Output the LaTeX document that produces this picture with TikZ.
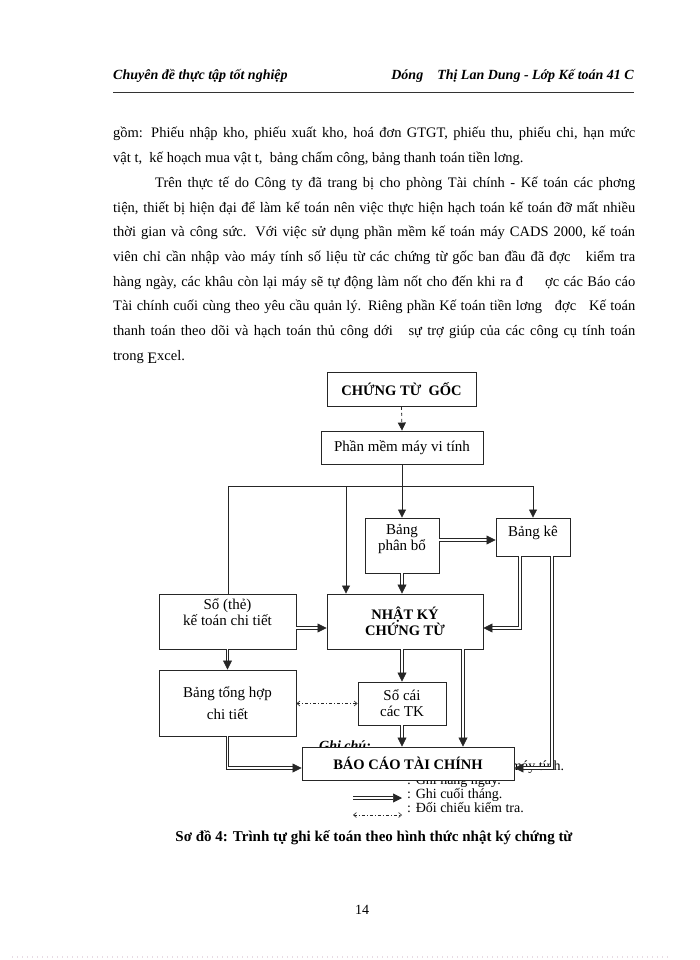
\documentclass[tikz,border=0pt]{standalone}
\usepackage{fontspec}
\setmainfont{Liberation Serif}
\usetikzlibrary{arrows.meta}

\definecolor{dotpink}{RGB}{232,218,228}
\newcommand{\bodyfont}{\fontsize{14.5}{17}\selectfont}
\newcommand{\boxfont}{\fontsize{15}{16}\selectfont}
\newcommand{\boxbold}{\fontsize{14.5}{15}\selectfont\bfseries}
\newcommand{\headfont}{\fontsize{14}{16}\selectfont\bfseries\itshape}

\tikzset{
  box/.style={draw=black!85, line width=0.9pt, fill=white, inner sep=2pt,
    align=center, font=\boxfont},
  arr/.style={draw=black!85, line width=0.8pt, -{Triangle[length=8pt,width=8pt]}},
  dbl/.style={draw=black!85, double, double distance=1.8pt, line width=0.7pt,
    -{Triangle[length=9pt,width=9pt]}},
  chk/.style={draw=black!85, line width=0.6pt, dash pattern=on 3pt off 2pt on 1pt off 2pt,
    {Straight Barb[length=3pt,width=5pt]}-{Straight Barb[length=3pt,width=5pt]}},
  txt/.style={anchor=base west, inner sep=0pt, font=\bodyfont},
  note/.style={anchor=base west, inner sep=0pt, font=\fontsize{14}{14}\selectfont}
}

\begin{document}
\begin{tikzpicture}[x=1pt,y=-1pt]
\useasboundingbox (0,0) rectangle (700,960);
\fill[white] (0,0) rectangle (700,960);

% header
\node[anchor=base west, inner sep=0pt, font=\headfont] (headl) at (113,80) {Chuyên đề thực tập tốt nghiệp};
\node[anchor=base east, inner sep=0pt, font=\headfont] (headr) at (634,80) {Dóng~~~~Thị Lan Dung - Lớp Kế toán 41 C};
\draw[line width=1pt, black!80] (113,93) -- (634,93);

% body text
\node[txt] (l1) at (113,138) {\hbox to 522pt{gồm: Phiếu nhập kho, phiếu xuất kho, hoá đơn GTGT, phiếu thu, phiếu chi, hạn mức}};
\node[txt] (l2) at (113,162.7) {vật t,~~kế hoạch mua vật t,~~bảng chấm công, bảng thanh toán tiền lơng.};
\node[txt] (l3) at (155,187.4) {\hbox to 480pt{Trên thực tế do Công ty đã trang bị cho phòng Tài chính - Kế toán các phơng}};
\node[txt] (l4) at (113,212.1) {\hbox to 522pt{tiện, thiết bị hiện đại để làm kế toán nên việc thực hiện hạch toán kế toán đỡ mất nhiều}};
\node[txt] (l5) at (113,236.8) {\hbox to 522pt{thời gian và công sức. Với việc sử dụng phần mềm kế toán máy CADS 2000, kế toán}};
\node[txt] (l6) at (113,261.5) {\hbox to 522pt{viên chỉ cần nhập vào máy tính số liệu từ các chứng từ gốc ban đầu đã đợc~~~kiểm tra}};
\node[txt] (l7) at (113,286.2) {\hbox to 522pt{hàng ngày, các khâu còn lại máy sẽ tự động làm nốt cho đến khi ra đ~~~~~ợc các Báo cáo}};
\node[txt] (l8) at (113,310.9) {\hbox to 522pt{Tài chính cuối cùng theo yêu cầu quản lý. Riêng phần Kế toán tiền lơng~~~đợc~~~Kế toán}};
\node[txt] (l9) at (113,335.6) {\hbox to 522pt{thanh toán theo dõi và hạch toán thủ công dới~~~sự trợ giúp của các công cụ tính toán}};
\node[txt] (l10) at (113,360.3) {trong \raisebox{-3pt}{\fontsize{16}{16}\selectfont E}xcel.};

% legend (partly under the boxes)
\node[note, font=\fontsize{14}{14}\selectfont\bfseries\itshape] (ghichu) at (319,750) {Ghi chú:};
\node[note] (n1) at (511,770) {máy tính.};
\node[note] (n2) at (407,784) {: Ghi hàng ngày.};
\node[note] (n3) at (407,798) {: Ghi cuối tháng.};
\node[note] (n4) at (407,812) {: Đối chiếu kiểm tra.};
\coordinate (k1) at (353,798);
\coordinate (k2) at (402,798);
\coordinate (k3) at (353,815);
\coordinate (k4) at (402,815);
\draw[dbl] (k1) -- (k2);
\draw[chk] (k3) -- (k4);

% boxes
\node[box, minimum width=149pt, minimum height=34pt, font=\boxbold] (goc) at (401.5,389.5) {CHỨNG TỪ~~GỐC};
\node[box, minimum width=162pt, minimum height=33pt] (phanmem) at (402,447.5) {Phần mềm máy vi tính};
\node[box, minimum width=74pt, minimum height=55pt,
  label={[anchor=north, align=center, font=\boxfont, inner sep=0pt, yshift=-7pt]north:Bảng\\phân bổ}] (phanbo) at (402,545.5) {};
\node[box, minimum width=74pt, minimum height=38pt,
  label={[anchor=north, font=\boxfont, inner sep=0pt, yshift=-8pt]north:Bảng kê}] (bangke) at (533,537) {};
\node[box, minimum width=137pt, minimum height=55pt] (sothe) at (227.5,621.5) {Sổ (thẻ)\\kế toán chi tiết\\[2pt]};
\node[box, minimum width=156pt, minimum height=55pt, font=\boxbold] (nhatky) at (405,621.5) {NHẬT KÝ\\CHỨNG TỪ};
\node[box, minimum width=137pt, minimum height=66pt] (tonghop) at (227.5,703) {Bảng tổng hợp\\[6pt]chi tiết};
\node[box, minimum width=88pt, minimum height=43pt] (socai) at (402,703.5) {Sổ cái\\các TK};
\node[box, minimum width=212pt, minimum height=33pt, font=\boxbold] (baocao) at (408,763.5) {BÁO CÁO TÀI CHÍNH};

% connectors
\coordinate (jl) at (228,486);
\coordinate (jm) at (346,486);
\coordinate (jr) at (533,486);
\coordinate (r1) at (0,628);
\coordinate (r2) at (0,768);
\coordinate (c1) at (520,0);
\coordinate (c2) at (552,0);
\coordinate (c3) at (463,0);
\coordinate (pk) at ([yshift=-3pt]bangke.west);

\draw[arr, dashed] (goc.south) -- (phanmem.north);
\draw[arr] (phanmem.south) -- (phanbo.north);
\draw[line width=0.8pt, black!85] (jl) -- (jr);
\draw[line width=0.8pt, black!85] (jl) -- (jl |- sothe.north);
\draw[arr] (jm) -- (jm |- nhatky.north);
\draw[arr] (jr) -- (bangke.north);

\draw[dbl] (pk -| phanbo.east) -- (pk);
\draw[dbl] (phanbo.south) -- (phanbo.south |- nhatky.north);
\draw[dbl] (c1 |- bangke.south) |- (nhatky.east |- r1);
\draw[dbl] (c2 |- bangke.south) |- (baocao.east |- r2);
\draw[dbl] (sothe.east |- r1) -- (nhatky.west |- r1);
\draw[dbl] (sothe.south) -- (tonghop.north);
\draw[dbl] (socai.north |- nhatky.south) -- (socai.north);
\draw[dbl] (c3 |- nhatky.south) -- (c3 |- baocao.north);
\draw[dbl] (socai.south) -- (socai.south |- baocao.north);
\draw[dbl] (tonghop.south) |- (baocao.west |- r2);
\draw[chk] (tonghop.east |- socai.west) -- (socai.west);

% caption and page number
\node[inner sep=0pt, font=\fontsize{15}{15}\selectfont\bfseries] (caption) at (374,838) {Sơ đồ 4: Trình tự ghi kế toán theo hình thức nhật ký chứng từ};
\node[inner sep=0pt, font=\fontsize{14}{14}\selectfont] (page) at (362,910) {14};
\draw[line width=1.2pt, dotpink, dash pattern=on 1.2pt off 3.8pt] (12,957) -- (670,957);
\end{tikzpicture}
\end{document}
